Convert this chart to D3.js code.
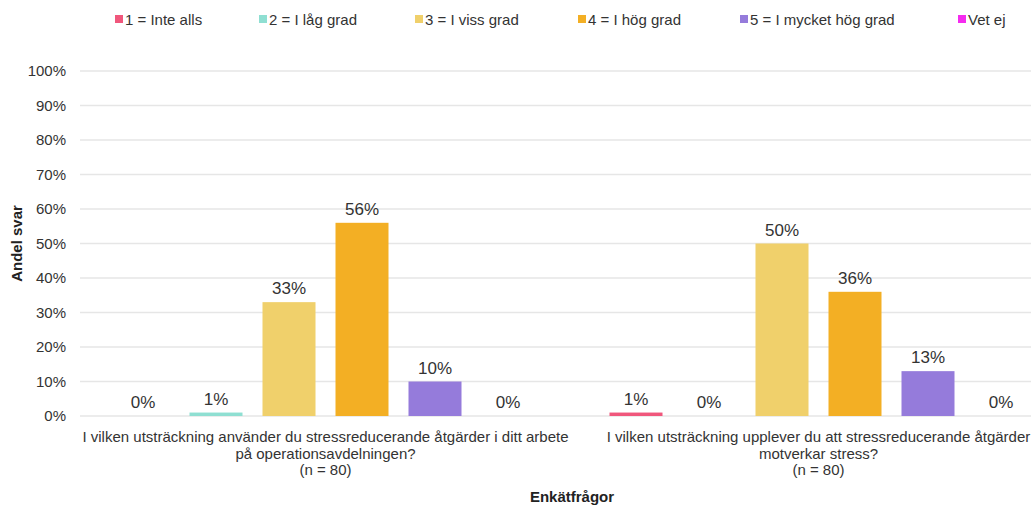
<!DOCTYPE html>
<html>
<head>
<meta charset="utf-8">
<script src="https://cdn.jsdelivr.net/npm/d3@7"></script>
<style>
html,body{margin:0;padding:0;background:#fff;overflow:hidden;}
text{font-family:"Liberation Sans",Arial,Helvetica,sans-serif;}
</style>
</head>
<body>
<svg id="chart" width="1031" height="506"></svg>
<script>
const questions = [
  ["I vilken utsträckning använder du stressreducerande åtgärder i ditt arbete", "på operationsavdelningen?", "(n = 80)"],
  ["I vilken utsträckning upplever du att stressreducerande åtgärder", "motverkar stress?", "(n = 80)"]
];
const seriesNames = ["1 = Inte alls", "2 = I låg grad", "3 = I viss grad", "4 = I hög grad", "5 = I mycket hög grad", "Vet ej"];
const seriesColors = ["#F0577C", "#8FDFD2", "#F0D06B", "#F3AF24", "#957BDB", "#F52BEF"];
const values1 = [0, 1, 33, 56, 10, 0];
const values2 = [1, 0, 50, 36, 13, 0];
const yTicks = [0, 10, 20, 30, 40, 50, 60, 70, 80, 90, 100];
const legendX = [115, 259, 415, 578, 740, 958];

(function () {
const allValues = [values1, values2];
const svg = d3.select("#chart");
const pLeft = 79, pRight = 1065, pTop = 71, pBottom = 416;

const x0 = d3.scaleBand().domain(d3.range(questions.length)).range([pLeft, pRight]).paddingInner(0).paddingOuter(0);
const x1 = d3.scaleBand().domain(d3.range(seriesNames.length)).range([27.5, x0.bandwidth() - 27.5]).paddingInner(20/73).paddingOuter(10/73);
const y = d3.scaleLinear().domain([0, 100]).range([pBottom, pTop]);

svg.append("g").selectAll("line").data(yTicks).join("line")
  .attr("x1", pLeft + 1).attr("x2", pRight)
  .attr("y1", d => y(d)).attr("y2", d => y(d))
  .attr("stroke", "#e6e6e6").attr("stroke-width", 1.5);

svg.append("g").selectAll("text").data(yTicks).join("text")
  .attr("x", 66).attr("y", d => y(d)).attr("dy", "0.35em")
  .attr("text-anchor", "end").attr("font-size", 15).attr("fill", "#333")
  .text(d => d + "%");

svg.append("text")
  .attr("transform", `translate(22,${(pTop + pBottom) / 2}) rotate(-90)`)
  .attr("text-anchor", "middle").attr("font-size", 15).attr("font-weight", "bold").attr("fill", "#222")
  .text("Andel svar");

const groups = svg.append("g").selectAll("g").data(allValues).join("g")
  .attr("transform", (d, i) => `translate(${x0(i)},0)`);

groups.selectAll("rect").data(d => d).join("rect")
  .attr("x", (d, i) => x1(i)).attr("width", x1.bandwidth())
  .attr("y", d => y(d)).attr("height", d => pBottom - y(d))
  .attr("fill", (d, i) => seriesColors[i]);

groups.selectAll("text.val").data(d => d).join("text").attr("class", "val")
  .attr("x", (d, i) => x1(i) + x1.bandwidth() / 2)
  .attr("y", d => y(d) - 8)
  .attr("text-anchor", "middle").attr("font-size", 17).attr("fill", "#333")
  .text(d => d + "%");

questions.forEach((lines, i) => {
  const cx = x0(i) + x0.bandwidth() / 2;
  const t = svg.append("text").attr("text-anchor", "middle").attr("font-size", 15).attr("fill", "#333");
  lines.forEach((ln, j) => {
    t.append("tspan").attr("x", cx).attr("y", 442 + j * 16.5).text(ln);
  });
});

svg.append("text").attr("x", (pLeft + pRight) / 2).attr("y", 502)
  .attr("text-anchor", "middle").attr("font-size", 15).attr("font-weight", "bold").attr("fill", "#222")
  .text("Enkätfrågor");

const lg = svg.append("g").selectAll("g").data(seriesNames).join("g")
  .attr("transform", (d, i) => `translate(${legendX[i]},0)`);
lg.append("rect").attr("x", 0).attr("y", 15).attr("width", 8).attr("height", 8)
  .attr("fill", (d, i) => seriesColors[i]);
lg.append("text").attr("x", 10).attr("y", 24.5).attr("font-size", 15).attr("fill", "#333").text(d => d);
})();
</script>
</body>
</html>
